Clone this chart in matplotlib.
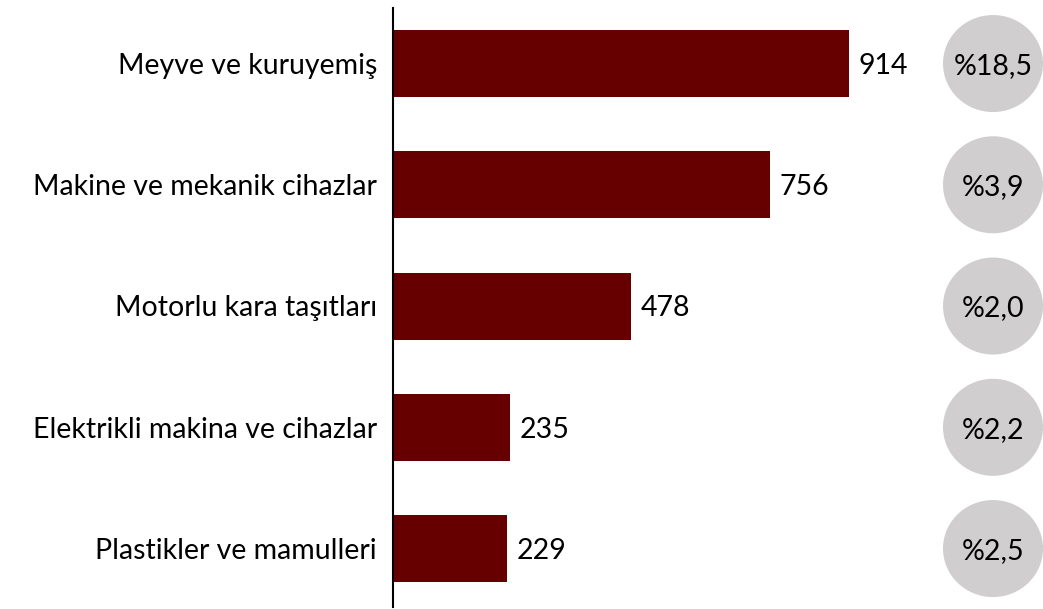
import matplotlib
matplotlib.use("Agg")
import matplotlib.pyplot as plt
from matplotlib.patches import Ellipse

categories = ["Meyve ve kuruyemiş", "Makine ve mekanik cihazlar", "Motorlu kara taşıtları",
              "Elektrikli makina ve cihazlar", "Plastikler ve mamulleri"]
values = [914, 756, 478, 235, 229]
shares = ["%18,5", "%3,9", "%2,0", "%2,2", "%2,5"]

plt.rcParams['font.family'] = ['Lato', 'DejaVu Sans']
FS = 20.5

W, H = 1043, 609
fig = plt.figure(figsize=(W / 100, H / 100), dpi=100)
ax_left = 393 / W
ax_bottom = 2 / H
ax_top = 1 - 8 / H
ax = fig.add_axes([ax_left, ax_bottom, 1 - ax_left, ax_top - ax_bottom])

px_per_unit = (849 - 393) / 914
xmax = (W - 393) / px_per_unit
ax.set_xlim(0, xmax)
ax.set_ylim(4.482, -0.458)

y = list(range(len(categories)))
ax.barh(y, values, height=0.553, color="#660000")

for yi, v in zip(y, values):
    ax.text(v + 9 / px_per_unit, yi + 0.02, f"{v}", va="center", ha="left", fontsize=FS, color="black")

trans = ax.get_yaxis_transform()
for yi, c in zip(y, categories):
    ax.text(-16 / px_per_unit, yi + 0.02, c, va="center", ha="right", fontsize=FS, color="black")

ecx = (993 - 393) / (W - 393)
ew = 100 / (W - 393)
eh = 97 / 121.25
for yi, s in zip(y, shares):
    e = Ellipse((ecx, yi), ew, eh, transform=trans, facecolor="#d0cece", edgecolor="none", clip_on=False)
    ax.add_patch(e)
    ax.text(ecx, yi + 0.02, s, transform=trans, va="center", ha="center", fontsize=FS, color="black")

for sp in ["top", "right", "bottom"]:
    ax.spines[sp].set_visible(False)
ax.spines["left"].set_linewidth(1.5)
ax.spines["left"].set_color("black")
ax.set_xticks([])
ax.set_yticks([])

fig.savefig("out.png", dpi=100)
